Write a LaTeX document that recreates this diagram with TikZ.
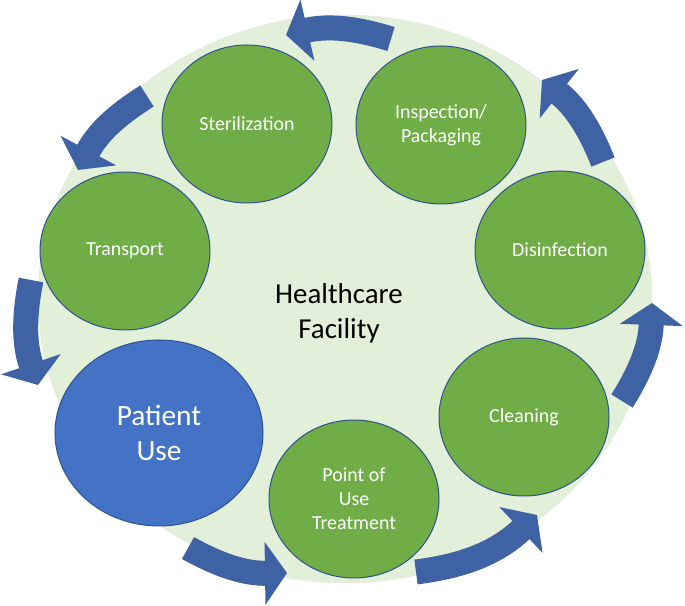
\documentclass[tikz,border=0pt]{standalone}
\usepackage{fontspec}
\setmainfont{Carlito}
\usetikzlibrary{shapes.geometric,arrows.meta}
\definecolor{bgGreen}{HTML}{E2F0D9}
\definecolor{stepGreen}{HTML}{70AD47}
\definecolor{useBlue}{HTML}{4472C4}
\definecolor{rimBlue}{HTML}{2F528F}
\definecolor{flowBlue}{HTML}{3F62A5}
\begin{document}
\begin{tikzpicture}[x=1bp,y=1bp,
    stage/.style={ellipse, draw=rimBlue, line width=1bp, fill=stepGreen, text=white, align=center,
      inner sep=0pt, minimum width=170bp, minimum height=158bp, font=\fontsize{20}{24}\selectfont},
    patient/.style={stage, fill=useBlue, minimum width=208bp, minimum height=186bp, font=\fontsize{29.5}{35}\selectfont},
    flow/.style={draw=flowBlue, line width=25bp, -{Triangle[width=62bp,length=22bp]}, bend right=15}]
    \useasboundingbox (0,0) rectangle (685,606);
    \node[ellipse, fill=bgGreen, draw=black!10, minimum width=614bp, minimum height=568bp] (facility) at (345,307) {};
    \node[align=center, font=\fontsize{29}{35}\selectfont] (title) at (339,293) {Healthcare\\Facility};
    % the cycle, anticlockwise from the patient
    \node[patient] (use) at (159,173) {Patient\\Use};
    \node[stage] (pou) at (354,107) {Point of\\Use\\Treatment};
    \node[stage] (clean) at (524,189) {Cleaning};
    \node[stage] (disinf) at (560,356) {Disinfection};
    \node[stage] (inspect) at (441,481) {Inspection/\\Packaging};
    \node[stage] (steril) at (247,482) {Sterilization};
    \node[stage] (trans) at (125,355) {Transport};
    % arrow ends
    \coordinate (a1) at (391,567); \coordinate (a2) at (286,571);
    \coordinate (b1) at (147,510); \coordinate (b2) at (78,436);
    \coordinate (c1) at (31,326);  \coordinate (c2) at (38,221);
    \coordinate (d1) at (188,58);  \coordinate (d2) at (287,33);
    \coordinate (e1) at (416,34);  \coordinate (e2) at (537,91);
    \coordinate (f1) at (622,205); \coordinate (f2) at (652,303);
    \coordinate (g1) at (603,444); \coordinate (g2) at (542,526);
    \draw[flow] (a1) to (a2);
    \draw[flow] (b1) to (b2);
    \draw[flow] (c1) to (c2);
    \draw[flow] (d1) to (d2);
    \draw[flow, bend right=18] (e1) to (e2);
    \draw[flow] (f1) to (f2);
    \draw[flow] (g1) to (g2);
\end{tikzpicture}
\end{document}
